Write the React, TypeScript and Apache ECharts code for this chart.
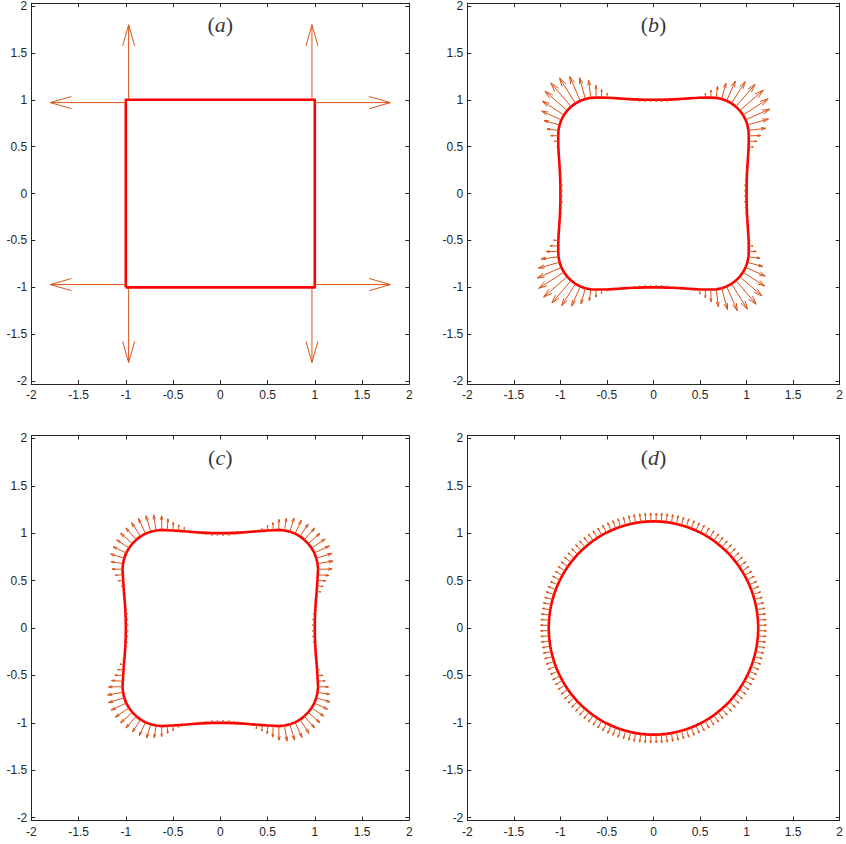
import React, { useEffect, useRef } from "react";
import * as echarts from "echarts";

// ---------- axes ----------
const xTicks = [-2, -1.5, -1, -0.5, 0, 0.5, 1, 1.5, 2];
const yTicks = [-2, -1.5, -1, -0.5, 0, 0.5, 1, 1.5, 2];
const X_MIN = -2;
const X_MAX = 2;
const Y_MIN = -2.03;
const Y_MAX = 2.03;

// ---------- panel labels ----------
const panelNames = ["a", "b", "c", "d"];
const panelLabelPoint = [0, 1.8];

// ---------- panel (a): initial square + corner velocities ----------
const squareX = [-1, 1, 1, -1, -1];
const squareY = [-1, -1, 1, 1, -1];
const aArrowX = [1, 0.97, -0.97, -1, -1, -0.97, 0.97, 1];
const aArrowY = [0.97, 1, 1, 0.97, -0.97, -1, -1, -0.97];
const aArrowU = [0.8, 0, 0, -0.8, -0.8, 0, 0, 0.8];
const aArrowV = [0, 0.8, 0.8, 0, 0, -0.8, -0.8, 0];

// ---------- panel (b): first-quadrant nodes (repeated by 90° rotation) ----------
const bNodeX = [1.0, 1.0, 1.002, 1.004, 1.007, 1.011, 1.015, 1.019, 1.022, 1.023, 1.023, 1.021, 1.009, 0.99, 0.962, 0.927, 0.885, 0.838, 0.786, 0.732, 0.674, 0.616, 0.558, 0.499, 0.44, 0.381, 0.323, 0.264, 0.205, 0.147, 0.088, 0.029];
const bNodeY = [0.029, 0.088, 0.147, 0.205, 0.264, 0.323, 0.381, 0.44, 0.499, 0.558, 0.616, 0.674, 0.732, 0.786, 0.838, 0.885, 0.927, 0.962, 0.99, 1.009, 1.021, 1.023, 1.023, 1.022, 1.019, 1.015, 1.011, 1.007, 1.004, 1.002, 1.0, 1.0];
const bSpeed = [-0.022, -0.022, -0.02, -0.016, -0.01, -0.004, 0.003, 0.012, 0.05, 0.088, 0.13, 0.187, 0.235, 0.283, 0.32, 0.334, 0.315, 0.275, 0.23, 0.173, 0.124, 0.081, 0.046, 0.018, 0.005, 0.0, -0.006, -0.012, -0.017, -0.02, -0.022, -0.022];

// ---------- panel (c): first-quadrant nodes ----------
const cNodeX = [1.0, 1.001, 1.003, 1.006, 1.01, 1.015, 1.02, 1.024, 1.028, 1.031, 1.035, 1.029, 1.016, 0.995, 0.966, 0.93, 0.889, 0.843, 0.791, 0.736, 0.679, 0.619, 0.561, 0.502, 0.443, 0.384, 0.325, 0.266, 0.207, 0.148, 0.089, 0.03];
const cNodeY = [0.03, 0.089, 0.148, 0.207, 0.266, 0.325, 0.384, 0.443, 0.502, 0.561, 0.619, 0.679, 0.736, 0.791, 0.843, 0.889, 0.93, 0.966, 0.995, 1.016, 1.029, 1.035, 1.031, 1.028, 1.024, 1.02, 1.015, 1.01, 1.006, 1.003, 1.001, 1.0];
const cSpeed = [-0.025, -0.025, -0.02, -0.012, 0.004, 0.018, 0.042, 0.064, 0.088, 0.12, 0.148, 0.166, 0.175, 0.176, 0.174, 0.167, 0.167, 0.157, 0.155, 0.15, 0.13, 0.11, 0.08, 0.056, 0.025, 0.01, 0.0, -0.01, -0.016, -0.022, -0.025, -0.025];

// ---------- panel (d): final circle ----------
const dRadius = 1.125;
const dNodeCount = 128;
const dSpeed = 0.088;

const CURVE_COLOR = "#FF0000";
const ARROW_COLOR = "#D95319";
const AXIS_COLOR = "#262626";
const SANS = "Liberation Sans";
const SERIF = "Liberation Serif";

const GRIDS = [
  { left: 31.3, top: 1, width: 378, height: 383 },
  { left: 467.3, top: 1, width: 378, height: 383 },
  { left: 31.3, top: 435.5, width: 378, height: 385 },
  { left: 467.3, top: 435.5, width: 378, height: 385 },
];

function rotateQuadrants(xs: number[], ys: number[], sp: number[]) {
  const px: number[] = [];
  const py: number[] = [];
  const s: number[] = [];
  for (let q = 0; q < 4; q++) {
    for (let k = 0; k < xs.length; k++) {
      const x = xs[k];
      const y = ys[k];
      let rx = x;
      let ry = y;
      if (q === 1) { rx = -y; ry = x; }
      else if (q === 2) { rx = -x; ry = -y; }
      else if (q === 3) { rx = y; ry = -x; }
      px.push(rx);
      py.push(ry);
      s.push(sp[k]);
    }
  }
  return { px, py, s };
}

function normalArrows(px: number[], py: number[], s: number[]) {
  const n = px.length;
  const out: number[][] = [];
  for (let i = 0; i < n; i++) {
    const a = (i - 1 + n) % n;
    const b = (i + 1) % n;
    const tx = px[b] - px[a];
    const ty = py[b] - py[a];
    const L = Math.hypot(tx, ty);
    const nx = ty / L;
    const ny = -tx / L;
    out.push([px[i], py[i], s[i] * nx, s[i] * ny]);
  }
  return out;
}

function closedLoop(px: number[], py: number[]) {
  const d = px.map((x, i) => [x, py[i]]);
  d.push([px[0], py[0]]);
  return d;
}

const renderArrow = (params: any, api: any) => {
  const x = api.value(0);
  const y = api.value(1);
  const u = api.value(2);
  const v = api.value(3);
  const p0 = api.coord([x, y]);
  const p1 = api.coord([x + u, y + v]);
  const dx = p1[0] - p0[0];
  const dy = p1[1] - p0[1];
  const L = Math.hypot(dx, dy);
  if (L < 0.05) return null;
  const ux = dx / L;
  const uy = dy / L;
  const back = 0.28 * L;
  const side = 0.08 * L;
  const bx = p1[0] - ux * back;
  const by = p1[1] - uy * back;
  const style = { stroke: ARROW_COLOR, lineWidth: 1, fill: null };
  return {
    type: "group",
    children: [
      { type: "line", shape: { x1: p0[0], y1: p0[1], x2: p1[0], y2: p1[1] }, style },
      {
        type: "polyline",
        shape: { points: [[bx - uy * side, by + ux * side], [p1[0], p1[1]], [bx + uy * side, by - ux * side]] },
        style,
      },
    ],
  };
};

function buildOption() {
  const curves: number[][][] = [];
  const arrows: number[][][] = [];

  curves.push(squareX.map((x, i) => [x, squareY[i]]));
  arrows.push(aArrowX.map((x, i) => [x, aArrowY[i], aArrowU[i], aArrowV[i]]));

  const b = rotateQuadrants(bNodeX, bNodeY, bSpeed);
  curves.push(closedLoop(b.px, b.py));
  arrows.push(normalArrows(b.px, b.py, b.s));

  const c = rotateQuadrants(cNodeX, cNodeY, cSpeed);
  curves.push(closedLoop(c.px, c.py));
  arrows.push(normalArrows(c.px, c.py, c.s));

  const dX: number[] = [];
  const dY: number[] = [];
  const dS: number[] = [];
  for (let i = 0; i < dNodeCount; i++) {
    const t = (2 * Math.PI * (i + 0.5)) / dNodeCount;
    dX.push(dRadius * Math.cos(t));
    dY.push(dRadius * Math.sin(t));
    dS.push(dSpeed);
  }
  curves.push(closedLoop(dX, dY));
  arrows.push(normalArrows(dX, dY, dS));

  const xAxis: any[] = [];
  const yAxis: any[] = [];
  const series: any[] = [];

  GRIDS.forEach((g, i) => {
    const common = {
      gridIndex: i,
      type: "value",
      axisLine: { show: true, onZero: false, lineStyle: { color: AXIS_COLOR, width: 1 } },
      axisTick: { show: true, inside: true, length: 4, lineStyle: { color: AXIS_COLOR, width: 1 } },
      splitLine: { show: false },
    };
    xAxis.push({
      ...common,
      position: "bottom",
      min: X_MIN,
      max: X_MAX,
      interval: 0.5,
      axisTick: { ...common.axisTick, customValues: xTicks },
      axisLabel: { show: true, customValues: xTicks, color: AXIS_COLOR, fontSize: 12, fontFamily: SANS, margin: 5 },
    });
    xAxis.push({
      ...common,
      position: "top",
      min: X_MIN,
      max: X_MAX,
      interval: 0.5,
      axisTick: { ...common.axisTick, customValues: xTicks },
      axisLabel: { show: false },
    });
    yAxis.push({
      ...common,
      position: "left",
      min: Y_MIN,
      max: Y_MAX,
      axisTick: { ...common.axisTick, customValues: yTicks },
      axisLabel: { show: true, customValues: yTicks, color: AXIS_COLOR, fontSize: 12, fontFamily: SANS, margin: 4 },
    });
    yAxis.push({
      ...common,
      position: "right",
      min: Y_MIN,
      max: Y_MAX,
      axisTick: { ...common.axisTick, customValues: yTicks },
      axisLabel: { show: false },
    });

    series.push({
      type: "line",
      xAxisIndex: 2 * i,
      yAxisIndex: 2 * i,
      data: curves[i],
      showSymbol: false,
      symbol: "none",
      silent: true,
      z: 2,
      lineStyle: { color: CURVE_COLOR, width: 2.6, join: "round" },
    });
    series.push({
      type: "custom",
      xAxisIndex: 2 * i,
      yAxisIndex: 2 * i,
      data: arrows[i],
      renderItem: renderArrow,
      encode: { x: 0, y: 1 },
      silent: true,
      z: 3,
    });
    series.push({
      type: "scatter",
      xAxisIndex: 2 * i,
      yAxisIndex: 2 * i,
      data: [panelLabelPoint],
      symbolSize: 0,
      silent: true,
      z: 4,
      label: {
        show: true,
        position: "inside",
        formatter: "{p|(}{i|" + panelNames[i] + "}{p|)}",
        rich: {
          p: { fontFamily: SERIF, fontSize: 22, color: "#000000" },
          i: { fontFamily: SERIF, fontStyle: "italic", fontSize: 22, color: "#000000" },
        },
      },
    });
  });

  return {
    animation: false,
    backgroundColor: "#ffffff",
    grid: GRIDS.map((g) => ({ ...g, containLabel: false })),
    xAxis,
    yAxis,
    series,
  };
}

export default function App() {
  const ref = useRef<HTMLDivElement>(null);
  useEffect(() => {
    if (!ref.current) return;
    const chart = echarts.init(ref.current, null, { renderer: "svg" });
    chart.setOption(buildOption() as any);
    return () => chart.dispose();
  }, []);
  return (
    <div
      ref={ref}
      style={{ position: "fixed", left: 0, top: 0, width: 846, height: 844, background: "#ffffff" }}
    />
  );
}
